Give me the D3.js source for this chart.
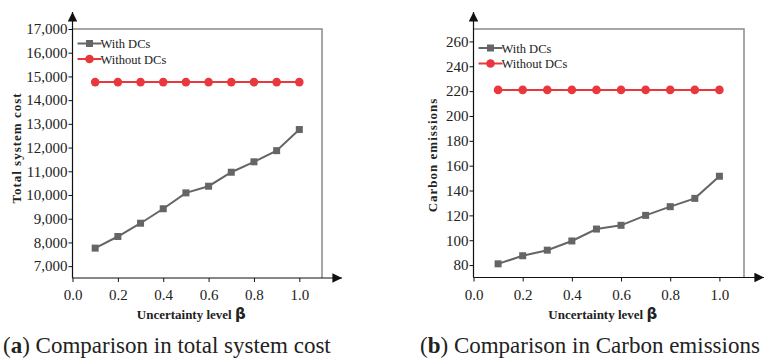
<!DOCTYPE html>
<html>
<head>
<meta charset="utf-8">
<script src="https://cdn.jsdelivr.net/npm/d3@7"></script>
<style>
    body { margin: 0; background: #fff; }
    svg text { font-family: "Liberation Serif", "Times New Roman", serif; fill: #222; }
</style>
</head>
<body>
<div id="chart"></div>
<script>

// data
let betaLevels = [0.1, 0.2, 0.3, 0.4, 0.5, 0.6, 0.7, 0.8, 0.9, 1.0];
let costWithDCs = [7760, 8250, 8810, 9420, 10090, 10370, 10960, 11400, 11870, 12760];
let costWithoutDCs = [14760, 14760, 14760, 14760, 14760, 14760, 14760, 14760, 14760, 14760];
let carbonWithDCs = [81, 87.5, 92, 99.4, 109, 112, 120, 127, 133.7, 151.5];
let carbonWithoutDCs = [221, 221, 221, 221, 221, 221, 221, 221, 221, 221];
let seriesNames = ["With DCs", "Without DCs"];
let xTicks = [0, 0.2, 0.4, 0.6, 0.8, 1.0];
let costTicks = [7000, 8000, 9000, 10000, 11000, 12000, 13000, 14000, 15000, 16000, 17000];
let carbonTicks = [80, 100, 120, 140, 160, 180, 200, 220, 240, 260];

let svg = d3.select("#chart").append("svg")
    .attr("width", 764)
    .attr("height", 359);

// marker for the arrow heads on the axes
svg.append("defs").append("marker")
    .attr("id", "arrow")
    .attr("viewBox", "0 0 10 10")
    .attr("refX", 10).attr("refY", 5)
    .attr("markerWidth", 8).attr("markerHeight", 8)
    .attr("orient", "auto")
    .append("path")
    .attr("d", "M0,0 L10,5 L0,10 z")
    .attr("fill", "#111");

function drawPanel(opts) {
    let g = svg.append("g");
    let xScale = d3.scaleLinear().domain([0, 1.1]).range([opts.left, opts.right]);
    let yScale = d3.scaleLinear().domain(opts.yDomain).range([opts.bottom, opts.top]);

    // frame (top and right)
    g.append("path")
        .attr("d", "M" + opts.left + "," + opts.top + " H" + opts.right + " V" + opts.bottom)
        .attr("fill", "none")
        .attr("stroke", "#8a8a8a")
        .attr("stroke-width", 1.5);

    // x axis
    let xAxis = g.append("g")
        .attr("transform", "translate(0," + opts.bottom + ")")
        .call(d3.axisBottom(xScale).tickValues(xTicks).tickFormat(d3.format(".1f")).tickSize(4).tickSizeOuter(0));
    xAxis.select(".domain").remove();
    xAxis.selectAll("text").attr("font-size", 15).attr("dy", "1.0em");
    xAxis.selectAll("line").attr("stroke", "#111");

    // y axis
    let yAxis = g.append("g")
        .attr("transform", "translate(" + opts.left + ",0)")
        .call(d3.axisLeft(yScale).tickValues(opts.yTicks).tickFormat(opts.yFormat).tickSize(4).tickSizeOuter(0));
    yAxis.select(".domain").remove();
    yAxis.selectAll("text").attr("font-size", 15).attr("x", -5);
    yAxis.selectAll("line").attr("stroke", "#111");

    // axis lines with arrows
    g.append("line")
        .attr("x1", opts.left).attr("x2", opts.arrowRight)
        .attr("y1", opts.bottom).attr("y2", opts.bottom)
        .attr("stroke", "#111").attr("stroke-width", 1.2)
        .attr("marker-end", "url(#arrow)");
    g.append("line")
        .attr("x1", opts.left).attr("x2", opts.left)
        .attr("y1", opts.bottom).attr("y2", 12)
        .attr("stroke", "#111").attr("stroke-width", 1.2)
        .attr("marker-end", "url(#arrow)");

    // axis titles
    g.append("text")
        .attr("x", (opts.left + opts.right) / 2 - 6)
        .attr("y", 319)
        .attr("text-anchor", "middle")
        .attr("font-size", 13)
        .attr("font-weight", "bold")
        .text("Uncertainty level ")
        .append("tspan")
        .attr("font-family", "DejaVu Sans")
        .attr("font-size", 15)
        .text("β");

    g.append("text")
        .attr("transform", "translate(" + opts.titleX + "," + opts.titleY + ") rotate(-90)")
        .attr("text-anchor", "middle")
        .attr("font-size", 13)
        .attr("font-weight", "bold")
        .attr("letter-spacing", 1)
        .text(opts.yTitle);

    let line = d3.line()
        .x((d, i) => xScale(betaLevels[i]))
        .y(d => yScale(d));

    // without DCs (red, circles)
    g.append("path")
        .datum(opts.without)
        .attr("d", line)
        .attr("fill", "none")
        .attr("stroke", "#e8383d")
        .attr("stroke-width", 2);
    g.selectAll(".dotRed").data(opts.without).enter().append("circle")
        .attr("cx", (d, i) => xScale(betaLevels[i]))
        .attr("cy", d => yScale(d))
        .attr("r", 4.3)
        .attr("fill", "#e8383d");

    // with DCs (grey, squares)
    g.append("path")
        .datum(opts.withDC)
        .attr("d", line)
        .attr("fill", "none")
        .attr("stroke", "#656565")
        .attr("stroke-width", 2);
    g.selectAll(".sqGrey").data(opts.withDC).enter().append("rect")
        .attr("x", (d, i) => xScale(betaLevels[i]) - 3.5)
        .attr("y", d => yScale(d) - 3.5)
        .attr("width", 7).attr("height", 7)
        .attr("fill", "#656565");

    // legend
    let legend = g.append("g").attr("transform", "translate(" + (opts.left + 5) + "," + opts.legendY + ")");
    let colors = ["#656565", "#e8383d"];
    seriesNames.forEach(function(name, i) {
        let row = legend.append("g").attr("transform", "translate(0," + (i * 15.5) + ")");
        row.append("line")
            .attr("x1", 0).attr("x2", 24)
            .attr("stroke", colors[i]).attr("stroke-width", 2);
        if (i == 0) {
            row.append("rect").attr("x", 8.5).attr("y", -3.5).attr("width", 7).attr("height", 7).attr("fill", colors[i]);
        } else {
            row.append("circle").attr("cx", 12).attr("r", 4.3).attr("fill", colors[i]);
        }
        row.append("text")
            .attr("x", 23).attr("y", 4.5)
            .attr("font-size", 12.5)
            .text(name);
    });

    // caption
    let cap = svg.append("text")
        .attr("x", opts.captionX)
        .attr("y", 353)
        .attr("font-size", 23);
    cap.append("tspan").text("(");
    cap.append("tspan").attr("font-weight", "bold").text(opts.letter);
    cap.append("tspan").text(") " + opts.caption);
}

drawPanel({
    left: 72.5, right: 322, top: 29, bottom: 278, arrowRight: 342,
    yDomain: [6500, 17000], yTicks: costTicks, yFormat: d3.format(","),
    withDC: costWithDCs, without: costWithoutDCs,
    yTitle: "Total system cost", titleX: 21, titleY: 148,
    legendY: 43.5, letter: "a", caption: "Comparison in total system cost", captionX: 3
});

drawPanel({
    left: 473.5, right: 744, top: 29, bottom: 277.5, arrowRight: 764,
    yDomain: [70, 270], yTicks: carbonTicks, yFormat: d3.format("d"),
    withDC: carbonWithDCs, without: carbonWithoutDCs,
    yTitle: "Carbon emissions", titleX: 437, titleY: 155,
    legendY: 48, letter: "b", caption: "Comparison in Carbon emissions", captionX: 420
});

</script>
</body>
</html>
